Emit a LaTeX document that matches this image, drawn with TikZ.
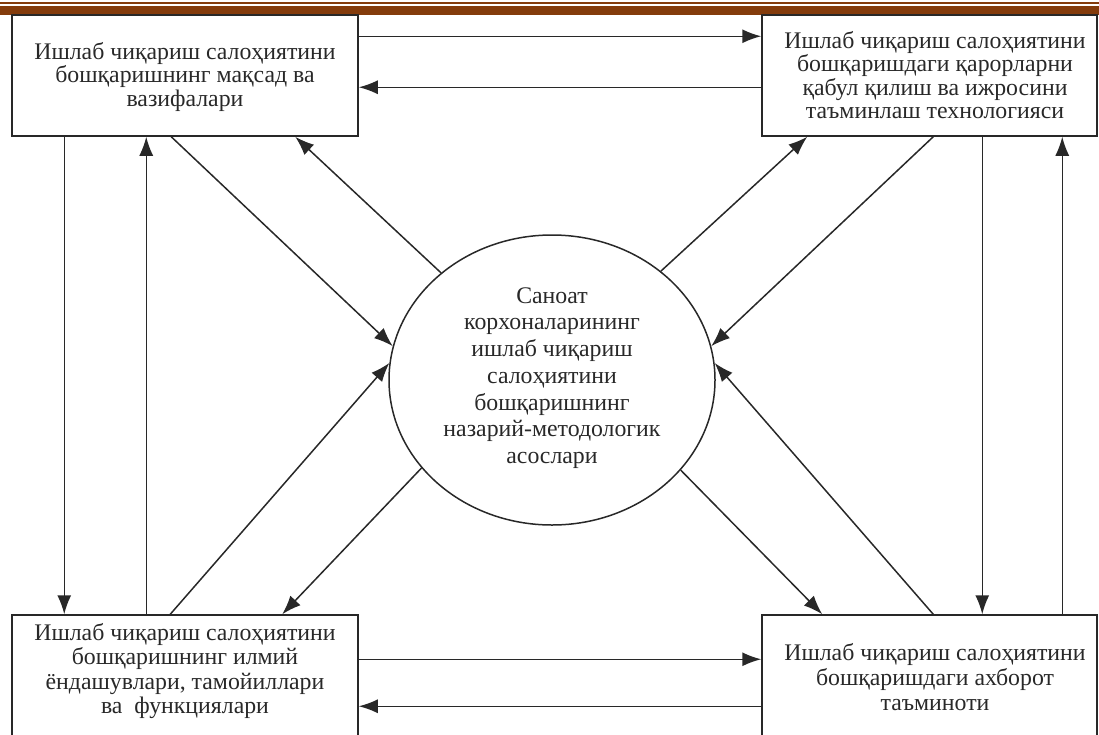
\documentclass[tikz,border=0pt]{standalone}
\usepackage{fontspec}
\setmainfont{Liberation Serif}
\usetikzlibrary{arrows.meta,shapes.geometric,calc}
\definecolor{hdrbrown}{RGB}{132,60,12}
\definecolor{inkgray}{RGB}{40,40,40}
\tikzset{
	box/.style={draw=inkgray, line width=1.5pt, rectangle, inner sep=0pt},
	boxtext/.style={align=center, text=inkgray, font=\fontsize{23.8}{23.5}\selectfont},
	arr/.style={draw=inkgray, line width=1.5pt, -{Latex[length=19pt,width=14pt]}},
}

\begin{document}
\begin{tikzpicture}[x=1pt,y=-1pt]
				\useasboundingbox (0,0) rectangle (1099,734);
				\clip (0,0) rectangle (1099,734);
				
				% header bars
				\fill[hdrbrown] (0,2.2) rectangle (1099,3.8);
				\fill[hdrbrown] (0,6) rectangle (1099,14.5);
				
				% boxes
				\node[box, minimum width=346pt, minimum height=121pt] (tl) at (185,75.5) {};
				\node[box, minimum width=335pt, minimum height=121pt] (tr) at (929.5,75.5) {};
				\node[box, minimum width=346pt, minimum height=145pt] (bl) at (185,687.5) {};
				\node[box, minimum width=335pt, minimum height=145pt] (br) at (929.5,687.5) {};
				\node[draw=inkgray, line width=1.5pt, ellipse, inner sep=0pt, minimum width=326pt, minimum height=290pt] (ell) at (552,380) {};
				
				% texts
				\node[boxtext] (tlt) at (185,77) {Ишлаб чиқариш салоҳиятини\\бошқаришнинг мақсад ва\\вазифалари};
				\node[boxtext] (trt) at (935,75) {Ишлаб чиқариш салоҳиятини\\бошқаришдаги қарорларни\\қабул қилиш ва ижросини\\таъминлаш технологияси};
				\node[boxtext, font=\fontsize{23.8}{24.3}\selectfont] (blt) at (185,671) {Ишлаб чиқариш салоҳиятини\\бошқаришнинг илмий\\ёндашувлари, тамойиллари\\ва\ \ функциялари};
				\node[boxtext, font=\fontsize{23.8}{25}\selectfont] (brt) at (935,677) {Ишлаб чиқариш салоҳиятини\\бошқаришдаги ахборот\\таъминоти};
				\node[boxtext, font=\fontsize{23.8}{26.7}\selectfont] (ellt) at (552,378) {Саноат\\корхоналарининг\\ишлаб чиқариш\\салоҳиятини\\бошқаришнинг\\назарий-методологик\\асослари};
				
				% horizontal arrows
				\draw[arr] ([yshift=-22pt]tl.north east) -- ([yshift=-22pt]tl.north east -| tr.west);
				\draw[arr] ([yshift=-73pt]tr.north west) -- ([yshift=-73pt]tr.north west -| tl.east);
				\draw[arr] ([yshift=-45pt]bl.north east) -- ([yshift=-45pt]bl.north east -| br.west);
				\draw[arr] ([yshift=-92pt]br.north west) -- ([yshift=-92pt]br.north west -| bl.east);
				
				% vertical arrows
				\draw[arr] ([xshift=53pt]tl.south west) -- ([xshift=53pt]tl.south west |- bl.north);
				\draw[arr] ([xshift=135pt]bl.north west) -- ([xshift=135pt]bl.north west |- tl.south);
				\draw[arr] ([xshift=221pt]tr.south west) -- ([xshift=221pt]tr.south west |- br.north);
				\draw[arr] ([xshift=301pt]br.north west) -- ([xshift=301pt]br.north west |- tr.south);
				
				% diagonal arrows
				\draw[arr] ([xshift=160pt]tl.south west) -- (ell.168);
				\draw[arr] (ell.136) -- ([xshift=284pt]tl.south west);
				\draw[arr] ([xshift=159pt]bl.north west) -- (ell.174);
				\draw[arr] (ell.214) -- ([xshift=271pt]bl.north west);
				\draw[arr] (ell.45) -- ([xshift=46pt]tr.south west);
				\draw[arr] ([xshift=172pt]tr.south west) -- (ell.12);
				\draw[arr] ([xshift=172pt]br.north west) -- (ell.6);
				\draw[arr] (ell.325) -- ([xshift=61pt]br.north west);
\end{tikzpicture}
\end{document}
